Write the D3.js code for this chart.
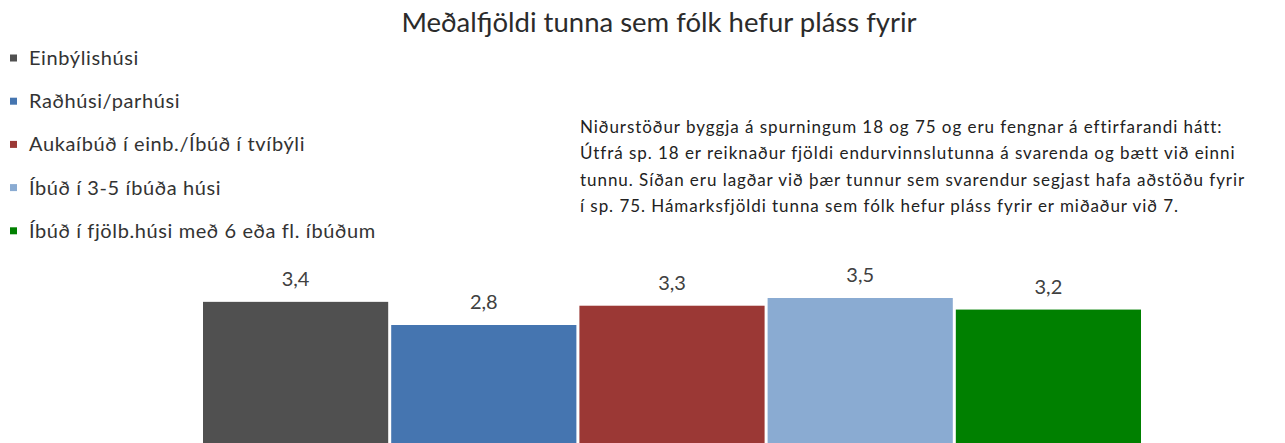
<!DOCTYPE html>
<html>
<head>
<meta charset="utf-8">
<script src="https://cdn.jsdelivr.net/npm/d3@7/dist/d3.min.js"></script>
<style>
  html, body { margin: 0; padding: 0; background: #fff; }
  svg { display: block; font-family: Lato, 'Liberation Sans', sans-serif; }
</style>
</head>
<body>
<div id="chart"></div>
<script>
const categories = [
    'Einbýlishúsi',
    'Raðhúsi/parhúsi',
    'Aukaíbúð í einb./Íbúð í tvíbýli',
    'Íbúð í 3-5 íbúða húsi',
    'Íbúð í fjölb.húsi með 6 eða fl. íbúðum'
];
const values = [3.4, 2.8, 3.3, 3.5, 3.2];
const colors = ['#505050', '#4575b0', '#9b3835', '#8aabd2', '#008000'];

const title = 'Meðalfjöldi tunna sem fólk hefur pláss fyrir';
const noteLines = [
    'Niðurstöður byggja á spurningum 18 og 75 og eru fengnar á eftirfarandi hátt:',
    'Útfrá sp. 18 er reiknaður fjöldi endurvinnslutunna á svarenda og bætt við einni',
    'tunnu. Síðan eru lagðar við þær tunnur sem svarendur segjast hafa aðstöðu fyrir',
    'í sp. 75. Hámarksfjöldi tunna sem fólk hefur pláss fyrir er miðaður við 7.'
];

const WIDTH = 1285;
const HEIGHT = 443;
// plot area: bars run on past the bottom edge of the visible frame
const PLOT = { left: 203, right: 1141, top: 298, base: 433 };

const svg = d3.select('#chart')
    .append('svg')
    .attr('width', WIDTH)
    .attr('height', HEIGHT);

svg.append('text')
    .attr('x', 659)
    .attr('y', 32)
    .attr('text-anchor', 'middle')
    .attr('font-size', 27.5)
    .attr('fill', '#2b2b2b')
    .text(title);

// legend
const legend = svg.append('g').attr('transform', 'translate(10,58)');
const item = legend.selectAll('g')
    .data(categories)
    .join('g')
    .attr('transform', (d, i) => `translate(0,${i * 43.2})`);
item.append('rect')
    .attr('x', 0)
    .attr('y', -3.5)
    .attr('width', 7)
    .attr('height', 7)
    .attr('fill', (d, i) => colors[i]);
item.append('text')
    .attr('x', 19)
    .attr('dy', '0.35em')
    .attr('font-size', 20)
    .attr('letter-spacing', 0.6)
    .attr('fill', '#333')
    .text(d => d);

// note
svg.append('g')
    .selectAll('text')
    .data(noteLines)
    .join('text')
    .attr('x', 580)
    .attr('y', (d, i) => 133 + i * 26.3)
    .attr('font-size', 17)
    .attr('letter-spacing', 0.95)
    .attr('fill', '#222')
    .text(d => d);

const x = d3.scaleBand()
    .domain(categories)
    .range([PLOT.left, PLOT.right])
    .paddingInner(0.016);

const y = d3.scaleLinear()
    .domain([0, 3.5])
    .range([PLOT.base, PLOT.top]);

svg.append('g')
    .selectAll('rect')
    .data(values)
    .join('rect')
    .attr('x', (d, i) => x(categories[i]))
    .attr('y', d => y(d))
    .attr('width', x.bandwidth())
    .attr('height', d => HEIGHT - y(d))
    .attr('fill', (d, i) => colors[i]);

const fmt = v => d3.format('.1f')(v).replace('.', ',');

svg.append('g')
    .selectAll('text')
    .data(values)
    .join('text')
    .attr('x', (d, i) => x(categories[i]) + x.bandwidth() / 2)
    .attr('y', d => y(d) - 16)
    .attr('text-anchor', 'middle')
    .attr('font-size', 20)
    .attr('fill', '#404040')
    .text(fmt);
</script>
</body>
</html>
